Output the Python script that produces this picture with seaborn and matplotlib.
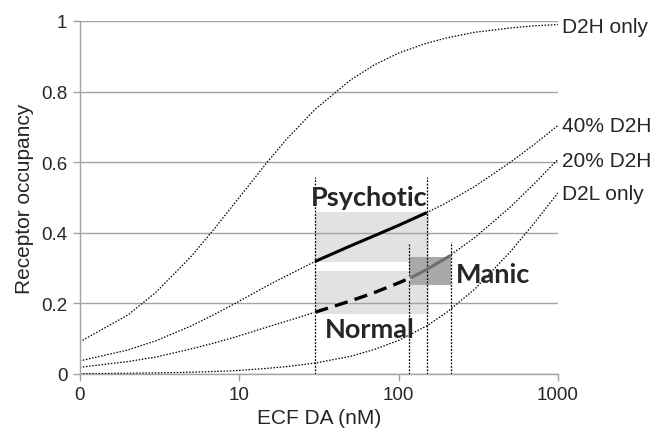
import matplotlib
matplotlib.use('Agg')
import matplotlib.pyplot as plt
import matplotlib.ticker as mticker
import pandas as pd
import seaborn as sns

# ECF dopamine (nM) sample points
da = [1, 2, 3, 5, 7, 10, 15, 20, 30, 50, 70, 100, 150, 200, 300, 500, 700, 1000]
d2h_only = [0.091, 0.167, 0.231, 0.333, 0.412, 0.50, 0.60, 0.667, 0.75, 0.833, 0.875,
            0.909, 0.937, 0.952, 0.968, 0.980, 0.986, 0.990]
d2h_40 = [0.037, 0.068, 0.094, 0.136, 0.169, 0.206, 0.250, 0.279, 0.319, 0.363, 0.391,
          0.421, 0.457, 0.485, 0.531, 0.599, 0.648, 0.704]
d2h_20 = [0.019, 0.035, 0.048, 0.071, 0.088, 0.108, 0.133, 0.150, 0.175, 0.207, 0.230,
          0.258, 0.296, 0.329, 0.386, 0.472, 0.536, 0.608]
d2l_only = [0.001, 0.002, 0.003, 0.005, 0.007, 0.010, 0.016, 0.021, 0.031, 0.050, 0.069,
            0.095, 0.136, 0.174, 0.240, 0.345, 0.424, 0.513]
curve_names = ['D2H only', '40% D2H', '20% D2H', 'D2L only']
label_y = [0.983, 0.703, 0.606, 0.51]

# highlighted states
psychotic_x = [30, 50, 70, 100, 150]
psychotic_y = [0.319, 0.363, 0.391, 0.421, 0.457]
normal_x = [30, 50, 70, 100, 120]
normal_y = [0.175, 0.207, 0.230, 0.258, 0.273]
manic_x = [120, 150, 200, 210]
manic_y = [0.273, 0.296, 0.329, 0.335]

# shaded ranges (x0, x1, y0, y1)
psychotic_box = [30, 156, 0.316, 0.458]
normal_box = [30, 156, 0.170, 0.293]
manic_box = [116, 214, 0.252, 0.330]

# vertical bounds and their heights
bound_x = [30, 150, 117, 212]
bound_top = [0.558, 0.558, 0.368, 0.374]

df = pd.DataFrame({
    'DA': da * 4,
    'occupancy': d2h_only + d2h_40 + d2h_20 + d2l_only,
    'curve': [n for n in curve_names for _ in da],
})

sns.set_style('white')
plt.rcParams['font.family'] = ['Liberation Sans', 'DejaVu Sans']
grey = '#a3a3a3'
box_grey = '#e2e2e2'

fig = plt.figure(figsize=(6.65, 4.31), dpi=100)
ax = fig.add_axes([0.120, 0.130, 0.719, 0.819])

for box, col in [(psychotic_box, box_grey), (normal_box, box_grey), (manic_box, '#a9a9a9')]:
    ax.fill_between([box[0], box[1]], box[2], box[3], color=col, lw=0, zorder=0.2)

sns.lineplot(data=df, x='DA', y='occupancy', hue='curve', palette={n: 'black' for n in curve_names},
             legend=False, lw=0.9, linestyle=(0, (1.2, 1.3)), ax=ax, zorder=2)

for x, top in zip(bound_x, bound_top):
    ax.plot([x, x], [0, top], color='black', lw=0.9, ls=(0, (1.5, 1.2)), zorder=2)

ax.plot(psychotic_x, psychotic_y, color='black', lw=2.2, zorder=3, solid_capstyle='butt')
# mask the dotted curve under the dashed segment
ax.plot(normal_x, normal_y, color=box_grey, lw=2.6, zorder=2.5)
ax.plot(normal_x, normal_y, color='black', lw=2.4, ls=(0, (4, 2.2)), zorder=3)
ax.plot(manic_x, manic_y, color='#6e6e6e', lw=2.2, zorder=3)

ax.set_xscale('log')
ax.set_xlim(1, 1000)
ax.set_ylim(0, 1)
ax.xaxis.set_major_locator(mticker.FixedLocator([1, 10, 100, 1000]))
ax.xaxis.set_major_formatter(mticker.FixedFormatter(['0', '10', '100', '1000']))
ax.xaxis.set_minor_locator(mticker.NullLocator())
ax.set_yticks([0, 0.2, 0.4, 0.6, 0.8, 1.0])
ax.set_yticklabels(['0', '0.2', '0.4', '0.6', '0.8', '1'])

ax.set_axisbelow(True)
ax.yaxis.grid(True, color=grey, lw=1)
ax.xaxis.grid(False)
for s in ['top', 'right']:
    ax.spines[s].set_visible(False)
for s in ['left', 'bottom']:
    ax.spines[s].set_color(grey)
    ax.spines[s].set_linewidth(1)
ax.tick_params(axis='both', length=5, width=1, color=grey, labelsize=13.5, pad=4,
               direction='out', bottom=True, left=True)

ax.set_xlabel('ECF DA (nM)', fontsize=15, labelpad=3)
ax.set_ylabel('Receptor occupancy', fontsize=15, labelpad=5)

for name, y in zip(curve_names, label_y):
    ax.text(1060, y, name, fontsize=15, va='center', ha='left', clip_on=False)

bold = dict(family=['Lato', 'DejaVu Sans'], fontweight='bold', fontsize=19.5, zorder=4)
ax.text(65, 0.48, 'Psychotic', ha='center', va='baseline', **bold)
ax.text(66, 0.105, 'Normal', ha='center', va='baseline', **bold)
ax.text(229, 0.26, 'Manic', ha='left', va='baseline', **bold)

plt.savefig('out.png', dpi=100)
